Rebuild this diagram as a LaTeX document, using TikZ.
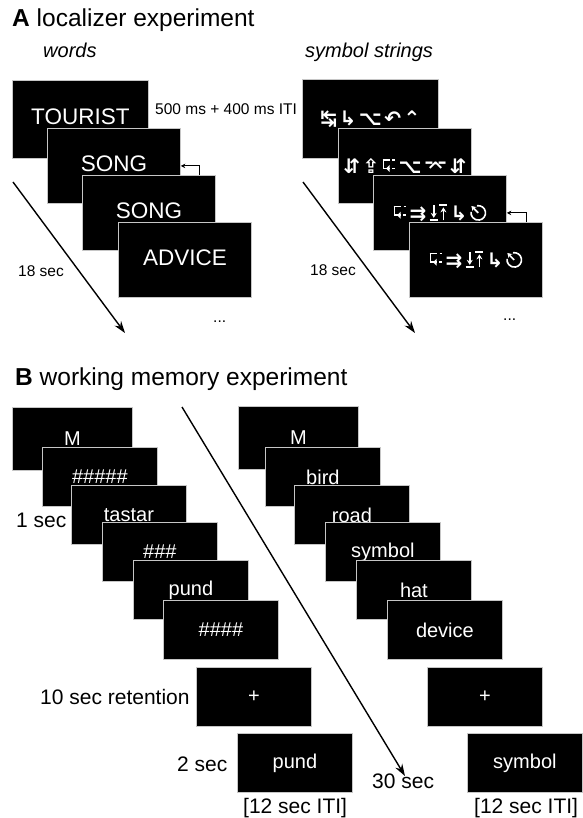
\documentclass[tikz,border=0pt]{standalone}
\usepackage{fontspec}
\setmainfont{Liberation Sans}
\newfontfamily\symf{DejaVu Sans}
\usetikzlibrary{arrows.meta,calc}
% symbols that no installed font has, drawn as shapes
\newcommand\symgap{\hspace{2.5pt}}
\tikzset{glyph/.style={baseline=0pt,x=1.15pt,y=1.15pt,line width=1.6pt,white,line cap=butt}}
\newcommand\gEnter{\tikz[glyph]{%
  \draw (1.5,12) -- (8,12); \draw (10,12) -- (12.5,12);
  \draw (2.2,12.7) -- (2.2,4.5) -- (7.5,4.5);
  \draw (9.5,4.5) -- (12,4.5);
  \fill (7.5,7.5) -- (4.5,4.5) -- (7.5,1.5) -- cycle;}}
\newcommand\gEsc{\tikz[glyph]{%
  \draw (7.5,6.5) ++(100:6.3) arc[start angle=100,end angle=-188,radius=6.3];
  \draw[-{Stealth[length=4.5pt,width=5.5pt]}] (7.5,6.5) -- (1.5,12.5);}}
\newcommand\gDownBar{\tikz[glyph]{%
  \draw[-{Stealth[length=5pt,width=6pt]}] (3.5,13) -- (3.5,2.2);
  \draw (0,0.3) -- (7,0.3);}}
\newcommand\gUpBar{\tikz[glyph]{%
  \draw[-{Stealth[length=5pt,width=6pt]}] (3.5,0) -- (3.5,11.3);
  \draw (0,13.3) -- (7,13.3);}}
\begin{document}
\begin{tikzpicture}[x=1pt,y=-1pt,
  scr/.style={fill=black, draw=gray!45, line width=0.8pt, inner sep=0pt, anchor=north west, text=white},
  abox/.style={scr, minimum width=133pt, minimum height=75pt, text depth=5pt, font=\fontsize{22.5}{24}\selectfont},
  sbox/.style={scr, minimum width=133pt, minimum height=75pt, font=\symf\bfseries\fontsize{20}{22}\selectfont},
  bbox/.style={scr, minimum width=115pt, minimum height=59pt, font=\fontsize{20}{22}\selectfont},
  lbl/.style={anchor=base west, inner sep=0pt, font=\fontsize{21}{24}\selectfont},
  slbl/.style={anchor=base west, inner sep=0pt, font=\fontsize{15.5}{18}\selectfont},
  ttl/.style={anchor=base west, inner sep=0pt, font=\fontsize{24.5}{28}\selectfont},
  sub/.style={anchor=base west, inner sep=0pt, font=\itshape\fontsize{20}{24}\selectfont},
  longarrow/.style={line width=1.4pt, -{Stealth[length=12pt,width=8pt]}},
  smallarrow/.style={line width=1pt, -{Stealth[length=4.5pt,width=4.5pt]}}]
\useasboundingbox (0,0) rectangle (582,818);

% ---------- A ----------
\node[ttl] (tA) at (12,27) {\textbf{A} localizer experiment};
\node[sub] (tw) at (43,58) {words};
\node[sub] (ts) at (305,58) {symbol strings};
\node[slbl] (t500) at (155,115) {500 ms + 400 ms ITI};

\node[abox, minimum width=136pt, minimum height=78pt] (a1) at (12,80) {TOURIST};
\node[abox] (a2) at (47,128) {SONG};
\node[abox] (a3) at (82,175) {SONG};
\node[abox] (a4) at (118,222) {ADVICE};

\node[sbox, minimum width=136pt, minimum height=79pt] (s1) at (302,79)
  {↹\symgap↳\symgap⌥\symgap↶\symgap⌃};
\node[sbox] (s2) at (338,128)
  {⇵\symgap⇪\symgap\gEnter\symgap⌥\symgap⌤\symgap⇵};
\node[sbox] (s3) at (373,175)
  {\gEnter\symgap⇉\symgap\gDownBar\gUpBar\symgap↳\symgap\gEsc};
\node[sbox] (s4) at (409,222)
  {\gEnter\symgap⇉\symgap\gDownBar\gUpBar\symgap↳\symgap\gEsc};

\draw[smallarrow] ([xshift=-16pt]a3.north east) |- (a2.east);
\draw[smallarrow] ([xshift=-16pt]s4.north east) |- (s3.east);

\coordinate (la0) at (13,182);
\coordinate (la1) at (125,333);
\coordinate (ra0) at (303,182);
\coordinate (ra1) at (415,333);
\draw[longarrow] (la0) -- (la1);
\draw[longarrow] (ra0) -- (ra1);
\node[slbl] (l18) at (18,276) {18 sec};
\node[slbl] (r18) at (310,275) {18 sec};
\node[slbl] (ldots) at (213,322) {...};
\node[slbl] (rdots) at (503,320) {...};

% ---------- B ----------
\node[ttl] (tB) at (15,385) {\textbf{B} working memory experiment};

\node[bbox, minimum width=120pt, minimum height=63pt] (b1) at (12,407) {M};
\node[bbox] (b2) at (42,447) {\#\#\#\#\#};
\node[bbox] (b3) at (71,485) {tastar};
\node[bbox] (b4) at (102,522) {\#\#\#};
\node[bbox] (b5) at (133,560) {pund};
\node[bbox] (b6) at (163,600) {\#\#\#\#};
\node[bbox] (b7) at (196,667) {+};
\node[bbox] (b8) at (237,733) {pund};

\node[bbox, minimum width=120pt, minimum height=63pt] (c1) at (238,406) {M};
\node[bbox] (c2) at (265,447) {bird};
\node[bbox] (c3) at (294,485) {road};
\node[bbox] (c4) at (325,522) {symbol};
\node[bbox] (c5) at (356,560) {hat};
\node[bbox] (c6) at (387,600) {device};
\node[bbox] (c7) at (427,667) {+};
\node[bbox] (c8) at (467,733) {symbol};

\node[lbl] (l1) at (16,527) {1 sec};
\node[lbl] (l10) at (40,704) {10 sec retention};
\node[lbl] (l2) at (177,771) {2 sec};
\node[lbl] (l30) at (372,788) {30 sec};
\node[lbl] (li1) at (243,813) {[12 sec ITI]};
\node[lbl] (li2) at (474,813) {[12 sec ITI]};

\coordinate (bb0) at (182,407);
\coordinate (bb1) at (405,776);
\draw[longarrow] (bb0) -- (bb1);
\end{tikzpicture}
\end{document}
